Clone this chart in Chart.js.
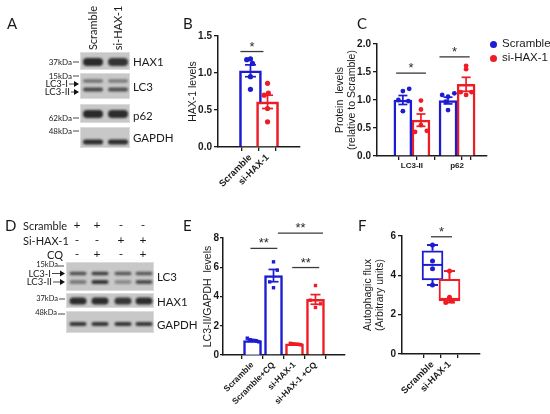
<!DOCTYPE html>
<html>
<head>
<meta charset="utf-8">
<script src="https://cdn.jsdelivr.net/npm/chart.js@4.4.1/dist/chart.umd.min.js"></script>
<style>
  body { margin: 0; width: 550px; height: 414px; position: relative; overflow: hidden; background: #fff; }
  canvas { position: absolute; }
  .t { position: absolute; white-space: nowrap; line-height: 1; color: #1a1a1a; }
</style>
</head>
<body>
<script>
// ---- data ----

// B: HAX-1 levels
const labelsB = ['Scramble', 'si-HAX-1'];
const meanB = [1.03, 0.61];
const semB = [0.08, 0.09];
const pointsB = [[1.18, 1.19, 1.13, 0.95, 0.78], [0.86, 0.70, 0.73, 0.52, 0.34]];
const sigB = [[-0.59, 0.76, 1.29, '*']];

// C: protein levels relative to Scramble
const groupsC = ['LC3-II', 'p62'];
const scrambleMeanC = [1.00, 0.99];
const siMeanC = [0.64, 1.28];
const scrambleSemC = [0.08, 0.06];
const siSemC = [0.11, 0.125];
const scramblePointsC = [[1.20, 1.16, 1.00, 0.98, 0.80], [1.09, 1.12, 1.06, 0.97, 0.82]];
const siPointsC = [[0.99, 0.83, 0.55, 0.45, 0.43], [1.61, 1.55, 1.14, 1.14, 1.09]];
const sigC = [[-0.35, 0.31, 1.48, '*'], [0.61, 1.28, 1.77, '*']];

// E: LC3-II/GAPDH levels
const labelsE = ['Scramble', 'Scramble+CQ', 'si-HAX-1', 'si-HAX-1 +CQ'];
const meanE = [0.99, 5.43, 0.76, 3.80];
const semE = [0.05, 0.42, 0.02, 0.33];
const pointsE = [[1.15, 1.05, 1.00, 0.95, 0.90], [6.37, 5.80, 5.00, 4.60], [0.80, 0.77, 0.74, 0.72, 0.70], [4.75, 3.75, 3.50, 3.25]];
const sigE = [[-0.1, 1.18, 7.29, '**'], [1.21, 3.36, 8.34, '**'], [1.89, 3.18, 5.98, '**']];

// F: autophagic flux (box and whiskers)
const labelsF = ['Scramble', 'si-HAX-1'];
const minF = [3.51, 2.62];
const q1F = [3.77, 2.70];
const medianF = [4.53, 2.80];
const q3F = [5.25, 3.80];
const maxF = [5.54, 4.22];
const pointsF = [[5.54, 4.73, 4.33, 3.51], [4.22, 2.88, 2.70, 2.62]];
const sigF = [[-0.09, 1.15, 5.96, '*']];

// ---- styling ----
const BLUE = '#1c1cd2';
const RED = '#ee1c24';
const INK = '#1a1a1a';
const SANS = '"Liberation Sans", Arial, sans-serif';
const LAB = 'Lato, "Open Sans", sans-serif';
// horizontal scatter of the dots (x-axis units)
const JIT_B = [[-0.22, 0, 0.12, 0, 0], [0, -0.2, 0.05, 0, 0]];
const JIT_C = [[0.14, 0, -0.1, 0.12, 0], [-0.13, 0.14, 0, -0.05, 0]];
const JIT_C2 = [[0, 0, 0, 0.13, -0.13], [0, 0, -0.12, 0.12, 0]];
const JIT_E = [[-0.25, -0.1, 0.05, 0.2, 0.3], [0, 0.18, -0.18, 0], [-0.2, -0.05, 0.1, 0.22, 0.3], [0, -0.25, 0.25, 0]];
const JIT_F = [[0, 0, 0, 0], [0, 0, 0.15, -0.22]];

function makeCanvas(left, top, w, h) {
  const c = document.createElement('canvas');
  c.width = w; c.height = h;
  c.style.left = left + 'px'; c.style.top = top + 'px';
  c.style.width = w + 'px'; c.style.height = h + 'px';
  document.body.appendChild(c);
  return c;
}

function text(str, x, y, size, opt = {}) {
  const d = document.createElement('div');
  d.className = 't';
  d.textContent = str;
  d.style.left = x + 'px';
  d.style.top = y + 'px';
  d.style.fontSize = size + 'px';
  d.style.fontFamily = opt.family || LAB;
  if (opt.bold) d.style.fontWeight = 'bold';
  const ax = opt.align === 'right' ? '-100%' : opt.align === 'center' ? '-50%' : '0';
  d.style.transform = `translate(${ax}, -50%)` + (opt.rotate ? ` rotate(${opt.rotate}deg)` : '');
  document.body.appendChild(d);
}

// error bars, whiskers, significance bars
const marks = {
  id: 'marks',
  afterDatasetsDraw(chart, args, o) {
    const { ctx } = chart;
    const x = chart.scales.x, y = chart.scales.y;
    const seg = (x0, y0, x1, y1) => { ctx.beginPath(); ctx.moveTo(x0, y0); ctx.lineTo(x1, y1); ctx.stroke(); };
    ctx.save();
    (o.errors || []).forEach(e => {
      const px = x.getPixelForValue(e.x);
      const hi = y.getPixelForValue(e.mean + e.sem), lo = y.getPixelForValue(e.mean - e.sem);
      ctx.strokeStyle = e.color; ctx.lineWidth = 1.7;
      seg(px, hi, px, lo);
      seg(px - e.cap, hi, px + e.cap, hi);
      seg(px - e.cap, lo, px + e.cap, lo);
    });
    (o.boxes || []).forEach(b => {
      const px = x.getPixelForValue(b.x);
      const half = b.width / 2;
      ctx.strokeStyle = b.color; ctx.lineWidth = 2;
      seg(px - half, y.getPixelForValue(b.med), px + half, y.getPixelForValue(b.med));
      seg(px, y.getPixelForValue(b.q3), px, y.getPixelForValue(b.max));
      seg(px, y.getPixelForValue(b.q1), px, y.getPixelForValue(b.min));
      seg(px - b.cap, y.getPixelForValue(b.max), px + b.cap, y.getPixelForValue(b.max));
      seg(px - b.cap, y.getPixelForValue(b.min), px + b.cap, y.getPixelForValue(b.min));
    });
    (o.sig || []).forEach(([a, b, v, s]) => {
      const x0 = x.getPixelForValue(a), x1 = x.getPixelForValue(b), py = y.getPixelForValue(v);
      ctx.strokeStyle = '#3a3a3a'; ctx.lineWidth = 1.3;
      seg(x0, py, x1, py);
      ctx.fillStyle = '#2a2a2a';
      ctx.font = '13px ' + SANS;
      ctx.textAlign = 'center';
      ctx.textBaseline = 'alphabetic';
      ctx.fillText(s, (x0 + x1) / 2, py - 1);
    });
    ctx.restore();
  }
};

function yAxis(max, step, digits, title, titlePad, width, tickLen = 4, tickPad = 2) {
  return {
    min: 0, max,
    ticks: { stepSize: step, color: INK, padding: tickPad, font: { family: SANS, size: 10, weight: 'bold' }, callback: v => v.toFixed(digits) },
    grid: { drawOnChartArea: false, tickLength: tickLen, color: INK, lineWidth: 1.3 },
    border: { color: INK, width: 1.5 },
    title: { display: true, text: title, color: INK, font: { family: SANS, size: 10.5 }, padding: { top: titlePad, bottom: 0 } },
    afterFit: s => { s.width = width; }
  };
}

function xAxis(min, max, tickAt, labelFor, rot, size, height) {
  return {
    type: 'linear', min, max,
    afterBuildTicks: s => { s.ticks = tickAt.map(v => ({ value: v })); },
    ticks: { autoSkip: false, minRotation: rot, maxRotation: rot, padding: 1, color: INK, font: { family: SANS, size, weight: 'bold' }, callback: v => labelFor(v) },
    grid: { drawOnChartArea: false, tickLength: 4, lineWidth: 1.3, color: INK,
      tickColor: c => (c.tick && labelFor(c.tick.value) && rot === 0 ? 'rgba(0,0,0,0)' : INK) },
    border: { color: INK, width: 1.5 },
    afterFit: s => { s.height = height; }
  };
}

function dots(xs, vals, jit, color, style, r) {
  const data = [];
  vals.forEach((arr, i) => arr.forEach((v, j) => data.push({ x: xs[i] + jit[i][j], y: v })));
  return { type: 'scatter', data, backgroundColor: color, borderWidth: 0, pointRadius: r, pointStyle: style, order: 0 };
}

const base = (pad) => ({
  responsive: false, animation: false, events: [],
  layout: { padding: pad },
  plugins: { legend: { display: false }, tooltip: { enabled: false } }
});

// ---- B ----
{
  const opts = base({ left: 0, top: 16, right: 5, bottom: 0 });
  opts.scales = {
    x: xAxis(-0.7, 1.7, [0, 1], v => labelsB[v] || '', 45, 9.3, 68),
    y: yAxis(1.5, 0.5, 1, 'HAX-1 levels', 6.7, 38)
  };
  opts.plugins.marks = {
    errors: meanB.map((m, i) => ({ x: i, mean: m, sem: semB[i], color: [BLUE, RED][i], cap: 5.5 })),
    sig: sigB
  };
  new Chart(makeCanvas(180, 20, 125, 195), {
    type: 'bar',
    data: { datasets: [
      { type: 'bar', data: meanB.map((m, i) => ({ x: i, y: m })), grouped: false, barThickness: 22,
        backgroundColor: '#fff', borderColor: [BLUE, RED], borderWidth: 2.6, borderSkipped: 'bottom', order: 1 },
      dots([0, 1], pointsB, JIT_B, [BLUE, BLUE, BLUE, BLUE, BLUE, RED, RED, RED, RED, RED], 'circle', 2.6)
    ] },
    options: opts,
    plugins: [marks]
  });
}

// ---- C ----
{
  const opts = base({ left: 0, top: 24, right: 5, bottom: 0 });
  opts.scales = {
    x: xAxis(-0.57, 1.46, [-0.2, 0, 0.2, 0.8, 1, 1.2], v => (Number.isInteger(v) ? groupsC[v] || '' : ''), 0, 8, 24),
    y: yAxis(2, 0.5, 1, ['Protein  levels', '(relative to Scramble)'], 11.7, 55)
  };
  const xs = [0, 1];
  opts.plugins.marks = {
    errors: [
      ...scrambleMeanC.map((m, i) => ({ x: xs[i] - 0.2, mean: m, sem: scrambleSemC[i], color: BLUE, cap: 4.5 })),
      ...siMeanC.map((m, i) => ({ x: xs[i] + 0.2, mean: m, sem: siSemC[i], color: RED, cap: 4.5 }))
    ],
    sig: sigC
  };
  new Chart(makeCanvas(322, 20, 170, 160), {
    type: 'bar',
    data: { datasets: [
      { type: 'bar', data: scrambleMeanC.map((m, i) => ({ x: xs[i] - 0.2, y: m })), grouped: false, barThickness: 18,
        backgroundColor: '#fff', borderColor: BLUE, borderWidth: 2.5, borderSkipped: 'bottom', order: 1 },
      { type: 'bar', data: siMeanC.map((m, i) => ({ x: xs[i] + 0.2, y: m })), grouped: false, barThickness: 18,
        backgroundColor: '#fff', borderColor: RED, borderWidth: 2.5, borderSkipped: 'bottom', order: 1 },
      dots(xs.map(v => v - 0.2), scramblePointsC, JIT_C, BLUE, 'circle', 2.4),
      dots(xs.map(v => v + 0.2), siPointsC, JIT_C2, RED, 'circle', 2.4)
    ] },
    options: opts,
    plugins: [marks]
  });
}

// ---- E ----
{
  const colE = [BLUE, BLUE, RED, RED];
  const opts = base({ left: 0, top: 23, right: 5, bottom: 0 });
  opts.scales = {
    x: xAxis(-0.68, 3.68, [0, 1, 2, 3], v => labelsE[v] || '', 45, 8.5, 59),
    y: yAxis(8, 2, 0, 'LC3-II/GAPDH  levels', 21.7, 43, 3, 1)
  };
  opts.plugins.marks = {
    errors: meanE.map((m, i) => ({ x: i, mean: m, sem: semE[i], color: colE[i], cap: 5 })),
    sig: sigE
  };
  const dotColors = [];
  pointsE.forEach((arr, i) => arr.forEach(() => dotColors.push(colE[i])));
  new Chart(makeCanvas(180, 215, 170, 199), {
    type: 'bar',
    data: { datasets: [
      { type: 'bar', data: meanE.map((m, i) => ({ x: i, y: m })), grouped: false, barThickness: 18,
        backgroundColor: '#fff', borderColor: colE, borderWidth: 2.5, borderSkipped: 'bottom', order: 1 },
      dots([0, 1, 2, 3], pointsE, JIT_E, dotColors, 'rect', 2.4)
    ] },
    options: opts,
    plugins: [marks]
  });
}

// ---- F ----
{
  const colF = [BLUE, RED];
  const opts = base({ left: 0, top: 21, right: 5, bottom: 0 });
  opts.scales = {
    x: xAxis(-0.65, 1.65, [0, 1], v => labelsF[v] || '', 45, 9.3, 60),
    y: yAxis(6, 2, 0, ['Autophagic flux', '(Arbitrary units)'], 1.7, 42)
  };
  opts.plugins.marks = {
    boxes: q1F.map((q, i) => ({ x: i, min: minF[i], q1: q, med: medianF[i], q3: q3F[i], max: maxF[i], color: colF[i], width: 21, cap: 5.5 })),
    sig: sigF
  };
  const dotColors = [];
  pointsF.forEach((arr, i) => arr.forEach(() => dotColors.push(colF[i])));
  new Chart(makeCanvas(360, 215, 125, 199), {
    type: 'bar',
    data: { datasets: [
      { type: 'bar', data: q1F.map((q, i) => ({ x: i, y: [q, q3F[i]] })), grouped: false, barThickness: 21,
        backgroundColor: '#fff', borderColor: colF, borderWidth: 2, borderSkipped: false, order: 1 },
      dots([0, 1], pointsF, JIT_F, dotColors, 'circle', 2.5)
    ] },
    options: opts,
    plugins: [marks]
  });
}

// ---- western blots (A and D) ----
const blot = makeCanvas(0, 0, 180, 414);
const g = blot.getContext('2d');
function strip(x, y, w, h) {
  g.fillStyle = '#c8c8c8'; g.fillRect(x, y, w, h);
  g.strokeStyle = '#dcdcdc'; g.lineWidth = 1; g.strokeRect(x + 0.5, y + 0.5, w - 1, h - 1);
}
function bands(lanes, cy, w, h, alphas) {
  lanes.forEach((cx, i) => {
    g.save();
    g.filter = 'blur(1.2px)';
    g.fillStyle = `rgba(28,28,28,${alphas[i]})`;
    g.beginPath();
    g.roundRect(cx - w / 2, cy - h / 2, w, h, h / 2);
    g.fill();
    g.restore();
  });
}
function dash(x0, x1, y) {
  g.strokeStyle = '#333'; g.lineWidth = 0.9;
  g.beginPath(); g.moveTo(x0, y); g.lineTo(x1, y); g.stroke();
}
function arrow(x0, x1, y) {
  dash(x0, x1 - 4, y);
  g.fillStyle = '#111';
  g.beginPath(); g.moveTo(x1, y); g.lineTo(x1 - 5, y - 3); g.lineTo(x1 - 5, y + 3); g.closePath(); g.fill();
}

const lanesA = [93, 118];
strip(80, 52, 50, 18); bands(lanesA, 62, 20, 8, [0.92, 0.86]);
strip(80, 73, 50, 26); bands(lanesA, 81, 20, 3.5, [0.5, 0.45]); bands(lanesA, 89.5, 20, 4, [0.75, 0.7]);
strip(80, 104, 50, 19); bands(lanesA, 114, 20, 8, [0.92, 0.9]);
strip(80, 127, 50, 21); bands(lanesA, 142, 20, 5, [0.9, 0.9]);
dash(73, 79, 62); dash(73, 79, 76); arrow(69, 79, 84); arrow(71, 79, 92); dash(73, 79, 118); dash(73, 79, 131);

const lanesD = [78, 100, 123, 144];
strip(66, 262, 88, 29); bands(lanesD, 273.5, 17, 3.5, [0.7, 0.8, 0.65, 0.65]); bands(lanesD, 282, 17, 4, [0.45, 0.85, 0.35, 0.7]);
strip(66, 293, 88, 15); bands(lanesD, 301, 17, 7, [0.9, 0.9, 0.85, 0.9]);
strip(66, 311, 88, 22); bands(lanesD, 324, 17, 4, [0.85, 0.85, 0.85, 0.85]);
dash(58, 64, 266); arrow(52, 65, 273.5); arrow(53, 65, 282); dash(59, 65, 299); dash(58, 65, 314);

// ---- text ----
text('A', 7, 23, 15); text('B', 183, 23, 15); text('C', 357, 23, 15);
text('D', 5, 225, 15); text('E', 183, 225, 15); text('F', 358, 225, 15);

text('Scramble', 92, 28, 11, { align: 'center', rotate: -90 });
text('si-HAX-1', 117, 28, 11, { align: 'center', rotate: -90 });
text('HAX1', 133, 62, 11.5); text('LC3', 133, 87, 11.5); text('p62', 133, 116, 11.5); text('GAPDH', 133, 138, 11.5);
text('37kDa', 72, 62, 8, { align: 'right' }); text('15kDa', 72, 76, 8, { align: 'right' });
text('LC3-I', 68, 84, 9.5, { align: 'right' }); text('LC3-II', 70, 92, 9.5, { align: 'right' });
text('62kDa', 72, 118, 8, { align: 'right' }); text('48kDa', 72, 131, 8, { align: 'right' });

text('Scramble', 23, 225, 11); text('Si-HAX-1', 23, 240, 11); text('CQ', 63, 254, 11, { align: 'right' });
const signs = [['+', '+', '-', '-'], ['-', '-', '+', '+'], ['-', '+', '-', '+']];
signs.forEach((row, r) => row.forEach((s, i) => text(s, [77, 97, 121, 143][i], 225 + r * 14.5, 12, { align: 'center' })));
text('LC3', 157, 277, 11.5); text('HAX1', 157, 302, 11.5); text('GAPDH', 157, 325, 11.5);
text('15kDa', 58, 265, 7.5, { align: 'right' }); text('LC3-I', 51, 273.5, 9.5, { align: 'right' });
text('LC3-II', 52, 282, 9.5, { align: 'right' }); text('37kDa', 58, 299, 7.5, { align: 'right' });
text('48kDa', 57, 313, 7.5, { align: 'right' });

// legend for C
[['Scramble', BLUE, 44], ['si-HAX-1', RED, 58]].forEach(([name, col, y]) => {
  const d = document.createElement('div');
  d.style.cssText = `position:absolute;left:490px;top:${y - 3.5}px;width:7px;height:7px;border-radius:50%;background:${col}`;
  document.body.appendChild(d);
  text(name, 502, y, 11.5, { family: SANS });
});
</script>
</body>
</html>
